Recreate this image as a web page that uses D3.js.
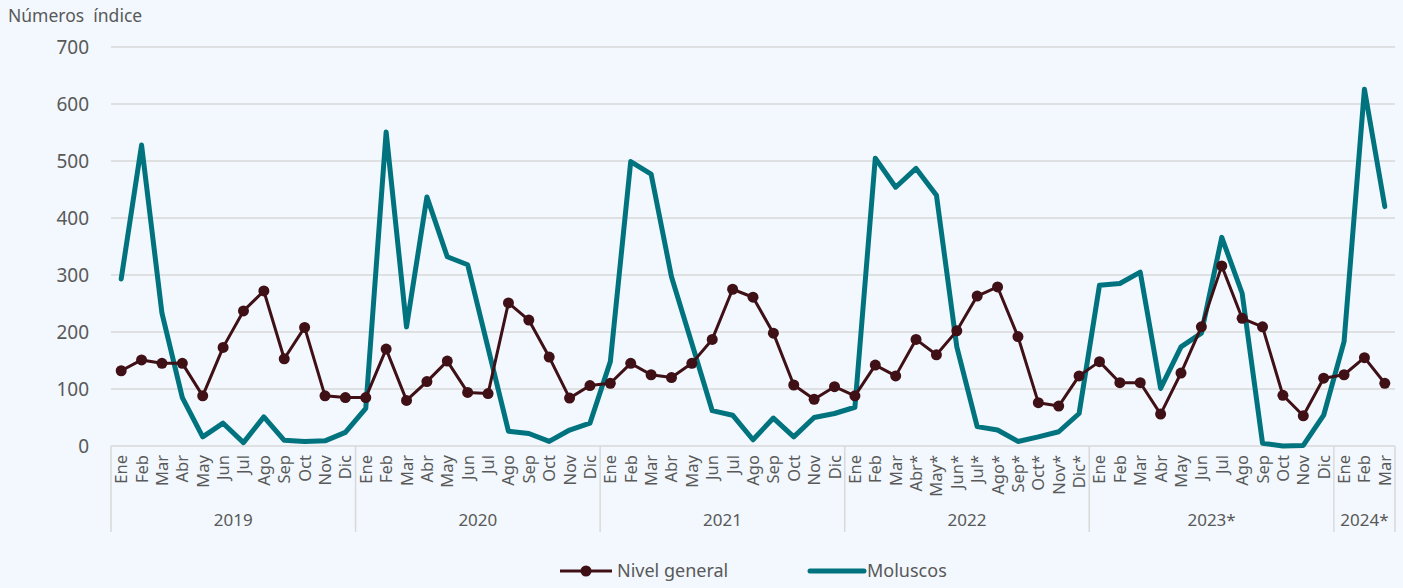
<!DOCTYPE html>
<html lang="es">
<head>
<meta charset="UTF-8">
<title>Nivel general y Moluscos</title>
<style>
  body { margin: 0; background: #f2f8fd; }
  svg { display: block; font-family: "Noto Sans", "Open Sans", sans-serif; }
</style>
</head>
<body>
<svg id="chart" width="1403" height="588"></svg>
<script src="https://d3js.org/d3.v7.min.js"></script>
<script>
// Datos
const years = ["2019", "2020", "2021", "2022", "2023*", "2024*"];
const monthsPerYear = [12, 12, 12, 12, 12, 3];
const months = ["Ene","Feb","Mar","Abr","May","Jun","Jul","Ago","Sep","Oct","Nov","Dic"];
const months2022 = ["Ene","Feb","Mar","Abr*","May*","Jun*","Jul*","Ago*","Sep*","Oct*","Nov*","Dic*"];

const nivelGeneral = [
  132, 151, 145, 145, 88, 173, 237, 272, 153, 208, 88, 85,
  85, 170, 80, 113, 149, 94, 92, 251, 221, 156, 84, 106,
  110, 145, 125, 120, 145, 187, 275, 261, 198, 107, 82, 104,
  88, 142, 123, 187, 160, 202, 263, 279, 192, 76, 70, 123,
  148, 111, 111, 56, 128, 209, 316, 224, 209, 89, 53, 119,
  125, 155, 110
];
const moluscos = [
  293, 528, 233, 85, 16, 40, 6, 51, 10, 8, 9, 24,
  66, 551, 209, 437, 332, 318, 172, 26, 22, 8, 28, 40,
  148, 499, 477, 297, 180, 62, 54, 11, 49, 16, 50, 57,
  68, 505, 454, 487, 440, 174, 34, 28, 8, 16, 25, 57,
  282, 285, 305, 101, 174, 198, 366, 268, 5, 0, 1, 54,
  183, 626, 420
];
const yTicks = [0, 100, 200, 300, 400, 500, 600, 700];

// etiquetas de mes por posición
const labels = [];
years.forEach((y, i) => {
  const names = y === "2022" ? months2022 : months;
  for (let m = 0; m < monthsPerYear[i]; m++) labels.push({ year: y, month: names[m], idx: labels.length });
});

const svg = d3.select("#chart");
const plotLeft = 111, plotRight = 1395, plotTop = 47, plotBottom = 446;
const textColor = "#595959";

const x = d3.scaleBand().domain(d3.range(labels.length)).range([plotLeft, plotRight]);
const y = d3.scaleLinear().domain([0, 700]).range([plotBottom, plotTop]);

// Título del eje
svg.append("text").attr("x", 8).attr("y", 22)
  .attr("font-size", 17.5).attr("fill", textColor)
  .style("white-space", "pre")
  .text("Números  índice");

// rejilla
svg.append("g").selectAll("line").data(yTicks.filter(d => d > 0)).enter().append("line")
  .attr("x1", plotLeft).attr("x2", plotRight)
  .attr("y1", d => y(d)).attr("y2", d => y(d))
  .attr("stroke", "#d9d9d9").attr("stroke-width", 1.5);

// eje Y
const yAxis = svg.append("g").attr("transform", `translate(${plotLeft},0)`)
  .call(d3.axisLeft(y).tickValues(yTicks).tickSize(0).tickPadding(22));
yAxis.select(".domain").remove();
yAxis.selectAll("text").attr("font-size", 19).attr("fill", textColor)
  .attr("font-family", "'Noto Sans', sans-serif");

// eje X: línea base y separadores
svg.append("line").attr("x1", plotLeft).attr("x2", plotRight).attr("y1", plotBottom).attr("y2", plotBottom)
  .attr("stroke", "#d9d9d9").attr("stroke-width", 1.5);

let start = 0;
const bounds = [0];
monthsPerYear.forEach(n => { start += n; bounds.push(start); });
const bx = d => d < labels.length ? x(d) : plotRight;
svg.append("g").selectAll("line").data(bounds).enter().append("line")
  .attr("x1", bx).attr("x2", bx)
  .attr("y1", plotBottom).attr("y2", 532)
  .attr("stroke", "#d9d9d9").attr("stroke-width", 1.5);

// meses
svg.append("g").selectAll("text").data(labels).enter().append("text")
  .attr("transform", d => `translate(${x(d.idx) + x.bandwidth() / 2 + 6},${plotBottom + 9}) rotate(-90)`)
  .attr("text-anchor", "end")
  .attr("font-size", 16.5).attr("fill", textColor)
  .text(d => d.month);

// años
svg.append("g").selectAll("text").data(years).enter().append("text")
  .attr("x", (d, i) => (bx(bounds[i]) + bx(bounds[i + 1])) / 2)
  .attr("y", 526)
  .attr("text-anchor", "middle")
  .attr("font-size", 17).attr("fill", textColor)
  .text(d => d);

const cx = i => x(i) + x.bandwidth() / 2;
const teal = "#00737f", maroon = "#3f1016";

// Moluscos
svg.append("path").datum(moluscos)
  .attr("fill", "none").attr("stroke", teal).attr("stroke-width", 5)
  .attr("stroke-linejoin", "round").attr("stroke-linecap", "round")
  .attr("d", d3.line().x((d, i) => cx(i)).y(d => y(d)));

// Nivel general
svg.append("path").datum(nivelGeneral)
  .attr("fill", "none").attr("stroke", maroon).attr("stroke-width", 3)
  .attr("stroke-linejoin", "round")
  .attr("d", d3.line().x((d, i) => cx(i)).y(d => y(d)));
svg.append("g").selectAll("circle").data(nivelGeneral).enter().append("circle")
  .attr("cx", (d, i) => cx(i)).attr("cy", d => y(d)).attr("r", 5.5)
  .attr("fill", maroon);

// Leyenda
const legend = svg.append("g");
legend.append("line").attr("x1", 560).attr("x2", 612).attr("y1", 571).attr("y2", 571)
  .attr("stroke", maroon).attr("stroke-width", 3);
legend.append("circle").attr("cx", 586).attr("cy", 571).attr("r", 5.5).attr("fill", maroon);
legend.append("text").attr("x", 617).attr("y", 577).attr("font-size", 18).attr("fill", textColor)
  .text("Nivel general");
legend.append("line").attr("x1", 810).attr("x2", 864).attr("y1", 571).attr("y2", 571)
  .attr("stroke", teal).attr("stroke-width", 5).attr("stroke-linecap", "round");
legend.append("text").attr("x", 867).attr("y", 577).attr("font-size", 18).attr("fill", textColor)
  .text("Moluscos");
</script>
</body>
</html>
